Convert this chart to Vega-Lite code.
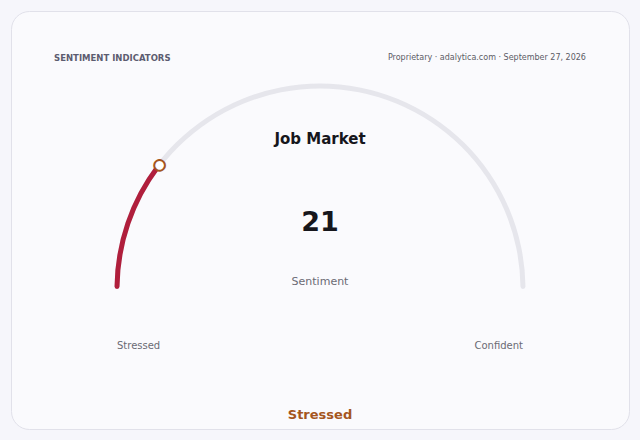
{
  "$schema": "https://vega.github.io/schema/vega-lite/v6.json",
  "width": 640,
  "height": 440,
  "autosize": {"type": "fit", "contains": "padding"},
  "padding": 11,
  "background": "#f6f6fb",
  "config": {
    "font": "DejaVu Sans",
    "view": {"fill": "#fafafd", "stroke": "#e1e1ea", "strokeWidth": 1, "cornerRadius": 18}
  },
  "data": {
    "values": [
      {
        "section": "SENTIMENT INDICATORS",
        "source": "Proprietary · adalytica.com · September 27, 2026",
        "indicator": "Job Market",
        "metric": "Sentiment",
        "value": 21,
        "min": 0,
        "max": 100,
        "low_label": "Stressed",
        "high_label": "Confident",
        "state": "Stressed"
      }
    ]
  },
  "layer": [
    {
      "mark": {"type": "arc", "radius": 205.5, "radius2": 200.5, "cornerRadius": 2.5, "color": "#e6e6ec"},
      "encoding": {
        "x": {"datum": 50, "type": "quantitative", "scale": {"domain": [-26.1, 126.1]}, "axis": null},
        "y": {"datum": 0, "type": "quantitative", "scale": {"domain": [-34.48, 68.47]}, "axis": null},
        "theta": {"field": "min", "type": "quantitative", "stack": null, "scale": {"domain": [0, 100], "range": [-1.5708, 1.5708]}},
        "theta2": {"field": "max"}
      }
    },
    {
      "mark": {"type": "arc", "radius": 205.5, "radius2": 200.5, "cornerRadius": 2.5, "color": "#b01e3c"},
      "encoding": {
        "x": {"datum": 50, "type": "quantitative", "scale": {"domain": [-26.1, 126.1]}, "axis": null},
        "y": {"datum": 0, "type": "quantitative", "scale": {"domain": [-34.48, 68.47]}, "axis": null},
        "theta": {"field": "min", "type": "quantitative", "stack": null, "scale": {"domain": [0, 100], "range": [-1.5708, 1.5708]}},
        "theta2": {"field": "value"}
      }
    },
    {
      "mark": {"type": "text", "text": "●", "radius": 203, "fontSize": 14, "fill": "#ffffff", "stroke": "#a5561e", "strokeWidth": 2, "align": "center", "baseline": "middle"},
      "encoding": {
        "x": {"datum": 50, "type": "quantitative", "scale": {"domain": [-26.1, 126.1]}, "axis": null},
        "y": {"datum": 0, "type": "quantitative", "scale": {"domain": [-34.48, 68.47]}, "axis": null},
        "theta": {"field": "value", "type": "quantitative", "stack": null, "scale": {"domain": [0, 100], "range": [-1.5708, 1.5708]}}
      }
    },
    {
      "mark": {"type": "text", "fontSize": 8.5, "fontWeight": "bold", "color": "#5c5c70", "align": "left", "baseline": "middle"},
      "encoding": {
        "x": {"datum": -15.5, "type": "quantitative", "scale": {"domain": [-26.1, 126.1]}, "axis": null},
        "y": {"datum": 56.9, "type": "quantitative", "scale": {"domain": [-34.48, 68.47]}, "axis": null},
        "text": {"field": "section"}
      }
    },
    {
      "mark": {"type": "text", "fontSize": 8, "color": "#5c5c66", "align": "right", "baseline": "middle"},
      "encoding": {
        "x": {"datum": 115.5, "type": "quantitative", "scale": {"domain": [-26.1, 126.1]}, "axis": null},
        "y": {"datum": 56.9, "type": "quantitative", "scale": {"domain": [-34.48, 68.47]}, "axis": null},
        "text": {"field": "source"}
      }
    },
    {
      "mark": {"type": "text", "fontSize": 15, "fontWeight": "bold", "color": "#16161c", "align": "center", "baseline": "middle"},
      "encoding": {
        "x": {"datum": 50, "type": "quantitative", "scale": {"domain": [-26.1, 126.1]}, "axis": null},
        "y": {"datum": 36.9, "type": "quantitative", "scale": {"domain": [-34.48, 68.47]}, "axis": null},
        "text": {"field": "indicator"}
      }
    },
    {
      "mark": {"type": "text", "fontSize": 27, "fontWeight": "bold", "color": "#16161c", "align": "center", "baseline": "middle"},
      "encoding": {
        "x": {"datum": 50, "type": "quantitative", "scale": {"domain": [-26.1, 126.1]}, "axis": null},
        "y": {"datum": 16.25, "type": "quantitative", "scale": {"domain": [-34.48, 68.47]}, "axis": null},
        "text": {"field": "value", "type": "quantitative", "format": ".0f"}
      }
    },
    {
      "mark": {"type": "text", "fontSize": 11, "color": "#6a6a74", "align": "center", "baseline": "middle"},
      "encoding": {
        "x": {"datum": 50, "type": "quantitative", "scale": {"domain": [-26.1, 126.1]}, "axis": null},
        "y": {"datum": 1.7, "type": "quantitative", "scale": {"domain": [-34.48, 68.47]}, "axis": null},
        "text": {"field": "metric"}
      }
    },
    {
      "mark": {"type": "text", "fontSize": 10, "color": "#6a6a74", "align": "left", "baseline": "middle"},
      "encoding": {
        "x": {"field": "min", "type": "quantitative", "scale": {"domain": [-26.1, 126.1]}, "axis": null},
        "y": {"datum": -14, "type": "quantitative", "scale": {"domain": [-34.48, 68.47]}, "axis": null},
        "text": {"field": "low_label"}
      }
    },
    {
      "mark": {"type": "text", "fontSize": 10, "color": "#6a6a74", "align": "right", "baseline": "middle"},
      "encoding": {
        "x": {"field": "max", "type": "quantitative", "scale": {"domain": [-26.1, 126.1]}, "axis": null},
        "y": {"datum": -14, "type": "quantitative", "scale": {"domain": [-34.48, 68.47]}, "axis": null},
        "text": {"field": "high_label"}
      }
    },
    {
      "mark": {"type": "text", "fontSize": 13, "fontWeight": "bold", "color": "#a5561e", "align": "center", "baseline": "middle"},
      "encoding": {
        "x": {"datum": 50, "type": "quantitative", "scale": {"domain": [-26.1, 126.1]}, "axis": null},
        "y": {"datum": -31, "type": "quantitative", "scale": {"domain": [-34.48, 68.47]}, "axis": null},
        "text": {"field": "state"}
      }
    }
  ]
}
